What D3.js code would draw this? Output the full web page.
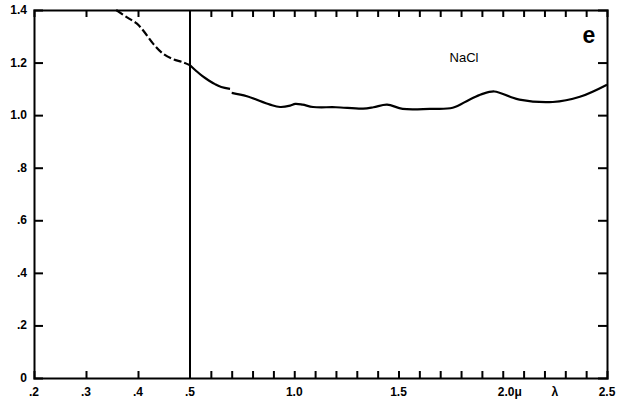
<!DOCTYPE html>
<html lang="en">
<head>
    <meta charset="UTF-8">
    <title>NaCl</title>
    <style>
        body { margin: 0; background: #fff; }
        text {
            font-family: "Liberation Sans", Arial, sans-serif;
            font-weight: bold;
            fill: #000;
        }
        .axis path { stroke: #000; stroke-width: 2px; }
        .axis line { stroke: #000; stroke-width: 2px; }
    </style>
</head>
<body>
    <svg width="634" height="402"></svg>
    <script src="https://d3js.org/d3.v7.min.js"></script>
    <script>
        // dashed part, below .5 micron
        var wlDash = [0.358, 0.379, 0.398, 0.41, 0.429, 0.448, 0.467, 0.485, 0.5];
        var nDash = [1.40, 1.372, 1.348, 1.322, 1.272, 1.234, 1.213, 1.202, 1.19];

        // first solid piece
        var wlA = [0.5, 0.53, 0.56, 0.59, 0.62, 0.65, 0.692];
        var nA = [1.19, 1.168, 1.148, 1.132, 1.118, 1.107, 1.10];

        // second solid piece
        var wlB = [0.70, 0.773, 0.884, 0.932, 0.98, 1.005, 1.04, 1.09, 1.2, 1.33, 1.38, 1.445,
                   1.52, 1.65, 1.76, 1.84, 1.9, 1.96, 2.035, 2.08, 2.24, 2.37, 2.5];
        var nB = [1.085, 1.072, 1.04, 1.031, 1.036, 1.043, 1.04, 1.031, 1.03, 1.025, 1.03, 1.04,
                  1.024, 1.024, 1.028, 1.059, 1.08, 1.09, 1.07, 1.059, 1.05, 1.07, 1.116];

        var xTicks = [0.3, 0.4, 0.6, 0.7, 0.8, 0.9, 1.0, 1.1, 1.2, 1.3, 1.4, 1.5, 1.6, 1.7,
                      1.8, 1.9, 2.0, 2.1, 2.2, 2.3, 2.4];
        var xLabelPos = [0.2, 0.3, 0.4, 0.5, 1.0, 1.5, 2.0, 2.25, 2.5];
        var xLabelText = [".2", ".3", ".4", ".5", "1.0", "1.5", "2.0\u03bc", "\u03bb", "2.5"];
        var yTicks = [0.2, 0.4, 0.6, 0.8, 1.0, 1.2];
        var yLabelPos = [0, 0.2, 0.4, 0.6, 0.8, 1.0, 1.2, 1.4];
        var yLabelText = ["0", ".2", ".4", ".6", ".8", "1.0", "1.2", "1.4"];

        var svg = d3.select("svg");

        // the wavelength axis is stretched below .5
        var x = d3.scaleLinear().domain([0.2, 0.5, 2.5]).range([34, 190, 607]);
        var y = d3.scaleLinear().domain([0, 1.4]).range([378, 10]);

        var xBottom = d3.axisBottom(x).tickValues(xTicks).tickSize(-7).tickFormat(() => "");
        var xTop = d3.axisTop(x).tickValues(xTicks).tickSize(-7).tickFormat(() => "");
        var yLeft = d3.axisLeft(y).tickValues(yTicks).tickSize(-9).tickFormat(() => "");
        var yRight = d3.axisRight(y).tickValues(yTicks).tickSize(-9).tickFormat(() => "");

        svg.append("g")
            .attr("class", "axis")
            .attr("transform", "translate(0,378)")
            .call(xBottom);

        svg.append("g")
            .attr("class", "axis")
            .attr("transform", "translate(0,10)")
            .call(xTop);

        svg.append("g")
            .attr("class", "axis")
            .attr("transform", "translate(34,0)")
            .call(yLeft);

        svg.append("g")
            .attr("class", "axis")
            .attr("transform", "translate(607,0)")
            .call(yRight);

        svg.selectAll(".xlab")
            .data(xLabelPos)
            .enter()
            .append("text")
            .attr("class", "xlab")
            .attr("x", (d, i) => x(d) + (i == 6 ? 7 : 0))
            .attr("y", 396)
            .style("font-size", "12px")
            .style("text-anchor", "middle")
            .text((d, i) => xLabelText[i]);

        svg.selectAll(".ylab")
            .data(yLabelPos)
            .enter()
            .append("text")
            .attr("class", "ylab")
            .attr("x", 27)
            .attr("y", (d) => y(d) + 4)
            .style("font-size", "12px")
            .style("text-anchor", "end")
            .text((d, i) => yLabelText[i]);

        // vertical line at .5
        svg.append("line")
            .attr("x1", x(0.5)).attr("x2", x(0.5))
            .attr("y1", y(0)).attr("y2", y(1.4))
            .style("stroke", "#000")
            .style("stroke-width", 2);

        var curveLine = d3.line()
            .x((d) => x(d[0]))
            .y((d) => y(d[1]))
            .curve(d3.curveCatmullRom);

        svg.append("path")
            .datum(d3.zip(wlDash, nDash))
            .attr("d", curveLine)
            .style("fill", "none")
            .style("stroke", "#000")
            .style("stroke-width", 2.2)
            .style("stroke-dasharray", "8, 3");

        svg.append("path")
            .datum(d3.zip(wlA, nA))
            .attr("d", curveLine)
            .style("fill", "none")
            .style("stroke", "#000")
            .style("stroke-width", 2.2);

        svg.append("path")
            .datum(d3.zip(wlB, nB))
            .attr("d", curveLine)
            .style("fill", "none")
            .style("stroke", "#000")
            .style("stroke-width", 2.2);

        svg.append("text")
            .attr("x", 464)
            .attr("y", 62)
            .style("font-size", "13px")
            .style("font-weight", "normal")
            .style("text-anchor", "middle")
            .text("NaCl");

        svg.append("text")
            .attr("x", 589)
            .attr("y", 43)
            .style("font-size", "23px")
            .style("text-anchor", "middle")
            .text("e");
    </script>
</body>
</html>
